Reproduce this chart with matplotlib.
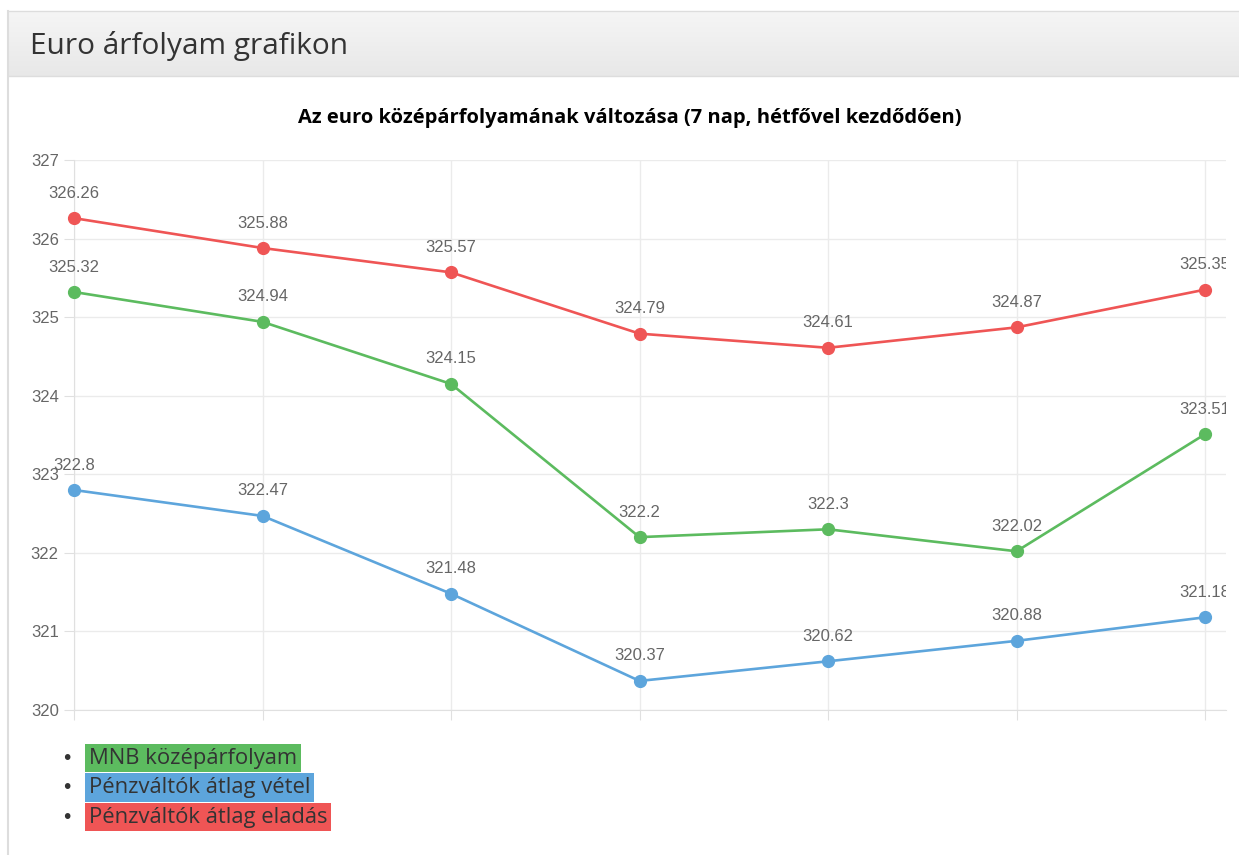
import matplotlib.pyplot as plt
import numpy as np
from matplotlib.patches import Rectangle
from matplotlib.lines import Line2D

# adatok - 7 nap, hetfotol
napok = ["H", "K", "Sze", "Cs", "P", "Szo", "V"]
mnb = [325.32, 324.94, 324.15, 322.2, 322.3, 322.02, 323.51]
vetel = [322.8, 322.47, 321.48, 320.37, 320.62, 320.88, 321.18]
eladas = [326.26, 325.88, 325.57, 324.79, 324.61, 324.87, 325.35]
nevek = ["MNB középárfolyam", "Pénzváltók átlag vétel", "Pénzváltók átlag eladás"]
szinek = ["#5cbb5f", "#5da5dc", "#ef5555"]

W, H = 1239, 855
fig = plt.figure(figsize=(W / 100, H / 100), dpi=100)

def fx(px):
    return px / W

def fy(py):
    return 1 - py / H

# fejlec (szurke savval)
hdr = fig.add_axes([fx(8), fy(76), fx(W - 8), 64 / H])
grad = np.linspace(0, 1, 64).reshape(-1, 1)
hdr.imshow(grad, aspect="auto", cmap=plt.matplotlib.colors.LinearSegmentedColormap.from_list("g", ["#f5f5f5", "#e8e8e8"]),
           extent=[0, 1, 0, 1], origin="upper")
hdr.set_xlim(0, 1)
hdr.set_ylim(0, 1)
hdr.axis("off")
hdr.text(22 / (W - 8), 0.47, "Euro árfolyam grafikon", fontsize=21.5, family="Open Sans",
         color="#333333", va="center", ha="left")
fig.add_artist(Line2D([fx(8), fx(W)], [fy(76), fy(76)], color="#dddddd", lw=1))
fig.add_artist(Line2D([fx(8), fx(W)], [fy(11.5), fy(11.5)], color="#dddddd", lw=1))
fig.add_artist(Line2D([fx(8), fx(8)], [fy(11.5), 0], color="#dddddd", lw=1.5))

# diagram cime
fig.text(fx(630), fy(118), "Az euro középárfolyamának változása (7 nap, hétfővel kezdődően)",
         ha="center", va="center", fontsize=14.5, fontweight="bold", family="Open Sans", color="black")

ax = fig.add_axes([fx(74), fy(710), fx(1226 - 74), (710 - 160) / H])
# csak jobb oldalon vagjuk le a feliratokat
vago = Rectangle((-0.2, -0.2), 1.2, 1.4, transform=ax.transAxes, visible=False)
ax.add_patch(vago)
x = np.arange(len(napok))
for adat, szin in zip([eladas, mnb, vetel], [szinek[2], szinek[0], szinek[1]]):
    ax.plot(x, adat, color=szin, lw=1.9, marker="o", markersize=8.5, clip_on=False, zorder=3)
    for xi, v in zip(x, adat):
        t = ax.annotate(f"{v:g}", (xi, v), xytext=(0, 18), textcoords="offset points", ha="center",
                        va="center", fontsize=12, family="Liberation Sans", color="#666666",
                        annotation_clip=False)
        t.set_clip_path(vago)

ax.set_xlim(0, 6 + 21 / 188.5)
ax.set_ylim(320, 327)
ax.set_xticks(x)
ax.set_xticklabels([""] * len(napok))
ax.set_yticks(range(320, 328))
ax.grid(True, color="#ebebeb", lw=1)
ax.set_axisbelow(True)
for s in ["top", "right"]:
    ax.spines[s].set_visible(False)
ax.spines["left"].set_color("#e0e0e0")
ax.spines["bottom"].set_color("#e0e0e0")
ax.tick_params(length=7, color="#e0e0e0", labelsize=12, labelcolor="#666666", pad=4)
for t in ax.get_yticklabels():
    t.set_family("Liberation Sans")

# jelmagyarazat (felsorolas)
for i, (nev, szin) in enumerate(zip(nevek, szinek)):
    yy = fy(758 + 29.5 * i)
    fig.text(fx(67), yy, "•", fontsize=14, color="#333333", ha="center", va="center")
    fig.text(fx(89), yy, nev, fontsize=15.8, family="Open Sans", color="#333333", ha="left", va="center",
             bbox=dict(facecolor=szin, edgecolor="none", pad=2.8))

fig.savefig("out.png", dpi=100)
